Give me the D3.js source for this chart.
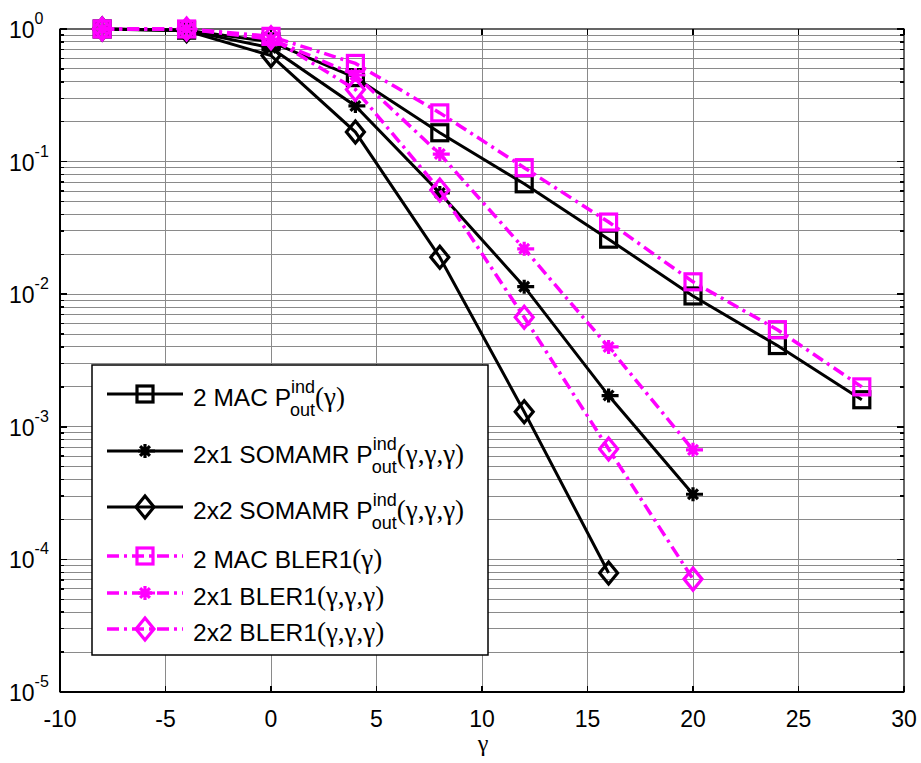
<!DOCTYPE html>
<html><head><meta charset="utf-8">
<script src="https://cdn.jsdelivr.net/npm/d3@7"></script>
<style>body{margin:0;background:#fff}svg{display:block}</style>
</head><body>
<script>
// ---- data ----
const gammaDb = [-8, -4, 0, 4, 8, 12, 16, 20, 24, 28];
const mac2Pout   = [1.0, 0.98, 0.80, 0.43, 0.165, 0.068, 0.026, 0.0097, 0.0041, 0.0016];
const som21Pout  = [1.0, 0.98, 0.72, 0.263, 0.058, 0.0114, 0.00172, 0.00031];
const som22Pout  = [1.0, 0.97, 0.63, 0.167, 0.019, 0.0013, 0.000079];
const mac2Bler   = [1.0, 1.0, 0.88, 0.55, 0.233, 0.09, 0.035, 0.0124, 0.0054, 0.002];
const b21Bler    = [1.0, 1.0, 0.84, 0.45, 0.114, 0.022, 0.0040, 0.00067];
const b22Bler    = [1.0, 1.0, 0.86, 0.35, 0.061, 0.0067, 0.00068, 0.000071];
const xTicks = [-10, -5, 0, 5, 10, 15, 20, 25, 30];
const yDecades = [0, -1, -2, -3, -4, -5];

const series = [
  {vals: mac2Pout,  color: "#000", dash: null, marker: "square",  label: ["2 MAC P", "ind", "out", "(γ)"]},
  {vals: som21Pout, color: "#000", dash: null, marker: "star",    label: ["2x1 SOMAMR P", "ind", "out", "(γ,γ,γ)"]},
  {vals: som22Pout, color: "#000", dash: null, marker: "diamond", label: ["2x2 SOMAMR P", "ind", "out", "(γ,γ,γ)"]},
  {vals: mac2Bler,  color: "#ff00ff", dash: "12,5,3,5", marker: "square",  label: ["2 MAC BLER1", null, null, "(γ)"]},
  {vals: b21Bler,   color: "#ff00ff", dash: "12,5,3,5", marker: "star",    label: ["2x1 BLER1", null, null, "(γ,γ,γ)"]},
  {vals: b22Bler,   color: "#ff00ff", dash: "12,5,3,5", marker: "diamond", label: ["2x2 BLER1", null, null, "(γ,γ,γ)"]}
];

const W = 921, H = 763;
const L = 60, R = 904, T = 29, B = 692;
const svg = d3.select("body").append("svg").attr("width", W).attr("height", H);
const x = d3.scaleLinear().domain([-10, 30]).range([L, R]);
const y = d3.scaleLog().domain([1e-5, 1]).range([B, T]);
const font = "'Liberation Sans', Arial, sans-serif";
const gfont = "'Liberation Serif', 'Times New Roman', serif";

// grid
const grid = svg.append("g").attr("stroke", "#8a8a8a").attr("stroke-width", 1).attr("shape-rendering", "crispEdges");
xTicks.slice(1, -1).forEach(t => grid.append("line").attr("x1", x(t)).attr("x2", x(t)).attr("y1", T).attr("y2", B));
const minorVals = [];
yDecades.slice(1).forEach(d => { for (let m = 1; m <= 9; m++) minorVals.push(m * Math.pow(10, d)); });
minorVals.filter(v => v > 1e-5 && v < 1).forEach(v =>
  grid.append("line").attr("x1", L).attr("x2", R).attr("y1", y(v)).attr("y2", y(v)));

// ticks
const tk = svg.append("g").attr("stroke", "#000").attr("stroke-width", 1.5).attr("shape-rendering", "crispEdges");
xTicks.forEach(t => {
  tk.append("line").attr("x1", x(t)).attr("x2", x(t)).attr("y1", B).attr("y2", B - 6);
  tk.append("line").attr("x1", x(t)).attr("x2", x(t)).attr("y1", T).attr("y2", T + 6);
});
minorVals.concat([1]).forEach(v => {
  const len = Math.abs(Math.log10(v) - Math.round(Math.log10(v))) < 1e-9 ? 7 : 4;
  tk.append("line").attr("x1", L).attr("x2", L + len).attr("y1", y(v)).attr("y2", y(v));
  tk.append("line").attr("x1", R).attr("x2", R - len).attr("y1", y(v)).attr("y2", y(v));
});

// frame
svg.append("rect").attr("x", L).attr("y", T).attr("width", R - L).attr("height", B - T)
  .attr("fill", "none").attr("stroke", "#000").attr("stroke-width", 1.2);
svg.append("line").attr("x1", L).attr("x2", L).attr("y1", T).attr("y2", B).attr("stroke", "#000").attr("stroke-width", 2);
svg.append("line").attr("x1", L).attr("x2", R).attr("y1", B).attr("y2", B).attr("stroke", "#000").attr("stroke-width", 2);

// tick labels
xTicks.forEach(t => svg.append("text").attr("x", x(t)).attr("y", 727).attr("text-anchor", "middle")
  .attr("font-family", font).attr("font-size", 23).text(t));
yDecades.forEach(d => {
  const tx = svg.append("text").attr("font-family", font).attr("font-size", 23).attr("x", 9).attr("y", y(Math.pow(10, d)) + 9);
  tx.append("tspan").text("10");
  tx.append("tspan").attr("font-size", 16).attr("dy", -14).text(d);
});
svg.append("text").attr("x", 483).attr("y", 751).attr("text-anchor", "middle")
  .attr("font-family", gfont).attr("font-size", 24).text("γ");

// marker drawing
function marker(g, type, cx, cy, color) {
  if (type === "square") {
    g.append("rect").attr("x", cx - 8).attr("y", cy - 8).attr("width", 16).attr("height", 16)
      .attr("fill", "none").attr("stroke", color).attr("stroke-width", 3.2);
  } else if (type === "diamond") {
    g.append("path").attr("d", `M${cx},${cy - 11}L${cx + 9},${cy}L${cx},${cy + 11}L${cx - 9},${cy}Z`)
      .attr("fill", "none").attr("stroke", color).attr("stroke-width", 3.2);
  } else {
    const r = 7, s = r * 0.7;
    g.append("path").attr("d", `M${cx - r},${cy}H${cx + r + 3}M${cx},${cy - r}V${cy + r}M${cx - s},${cy - s}L${cx + s},${cy + s}M${cx - s},${cy + s}L${cx + s},${cy - s}`)
      .attr("fill", "none").attr("stroke", color).attr("stroke-width", 3.2);
  }
}

// series
const line = d3.line().x(d => x(d[0])).y(d => y(d[1]));
series.forEach(s => {
  const pts = s.vals.map((v, i) => [gammaDb[i], v]);
  const g = svg.append("g");
  g.append("path").attr("d", line(pts)).attr("fill", "none").attr("stroke", s.color)
    .attr("stroke-width", s.dash ? 3.5 : 3).attr("stroke-dasharray", s.dash);
  pts.forEach(p => marker(g, s.marker, x(p[0]), y(p[1]), s.color));
});

// legend
const lg = svg.append("g");
lg.append("rect").attr("x", 92).attr("y", 365).attr("width", 396).attr("height", 290)
  .attr("fill", "#fff").attr("stroke", "#000").attr("stroke-width", 1.5);
const rowY = [394, 451, 507, 556, 593, 629];
series.forEach((s, i) => {
  const ly = rowY[i];
  lg.append("line").attr("x1", 107).attr("x2", 183).attr("y1", ly).attr("y2", ly).attr("stroke", s.color)
    .attr("stroke-width", s.dash ? 3.5 : 3).attr("stroke-dasharray", s.dash);
  marker(lg, s.marker, 145, ly, s.color);
  const t = lg.append("text").attr("x", 193).attr("y", ly + 12).attr("font-family", font).attr("font-size", 24.5);
  t.append("tspan").text(s.label[0]);
  if (s.label[1]) {
    t.append("tspan").attr("font-size", 18).attr("dy", -13).text(s.label[1]);
    t.append("tspan").attr("font-size", 18).attr("dx", -25).attr("dy", 23).text(s.label[2]);
    t.append("tspan").attr("font-family", gfont).attr("font-size", 27).attr("dy", -10).text(s.label[3]);
  } else {
    t.append("tspan").attr("font-family", gfont).attr("font-size", 27).text(s.label[3]);
  }
});
</script>
</body></html>
